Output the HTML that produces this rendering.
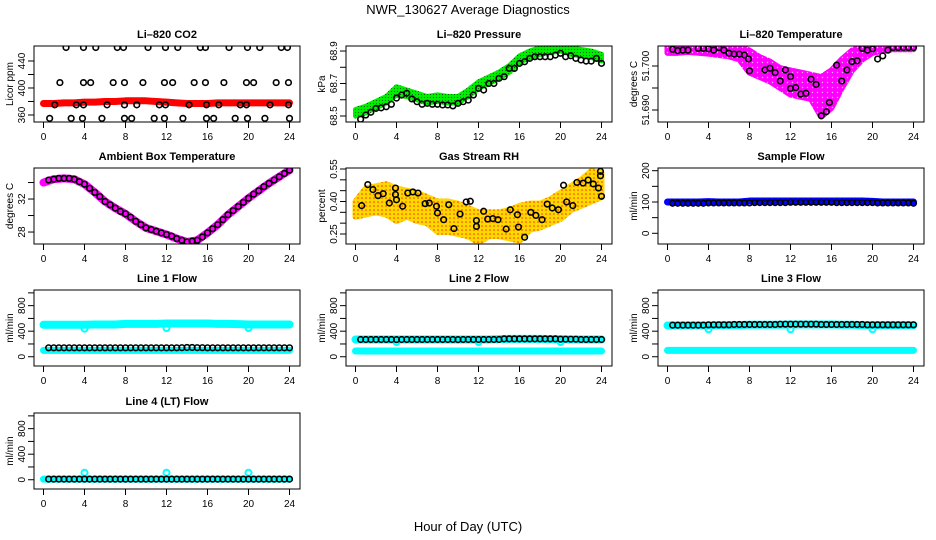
<!DOCTYPE html>
<html><head><meta charset="utf-8">
<style>
html,body{margin:0;padding:0;background:#fff;}
svg{display:block;font-family:"Liberation Sans",sans-serif;}
</style></head>
<body>
<svg id="chart" width="936" height="540" viewBox="0 0 936 540">
<defs>
<pattern id="rhpat" width="4" height="4" patternUnits="userSpaceOnUse">
<rect width="4" height="4" fill="#ffd800"/>
<circle cx="2" cy="2" r="0.8" fill="#ff3000"/>
</pattern>
<pattern id="magpat" width="5" height="5" patternUnits="userSpaceOnUse">
<rect width="5" height="5" fill="#ff00ff"/>
<circle cx="2.5" cy="2.5" r="0.7" fill="#ffb0ff"/>
</pattern>
<pattern id="grnpat" width="3" height="3" patternUnits="userSpaceOnUse">
<rect width="3" height="3" fill="#00ee00"/>
<rect x="1" y="1" width="1" height="1" fill="#006600"/>
</pattern>
</defs>
<text x="468" y="14" text-anchor="middle" font-size="13">NWR_130627  Average Diagnostics</text>
<text x="468" y="531" text-anchor="middle" font-size="13">Hour of Day (UTC)</text>
</svg>
<script>
// ---- data ----
const hours = [0,1,2,3,4,5,6,7,8,9,10,11,12,13,14,15,16,17,18,19,20,21,22,23,24];
const halfHours = [0.5,1,1.5,2,2.5,3,3.5,4,4.5,5,5.5,6,6.5,7,7.5,8,8.5,9,9.5,10,10.5,11,11.5,12,12.5,13,13.5,14,14.5,15,15.5,16,16.5,17,17.5,18,18.5,19,19.5,20,20.5,21,21.5,22,22.5,23,23.5,24];

// Li-820 CO2
const co2Band = [377,377,378,378,379,379,380,380,381,381,381,380,379,378,377,377,377,378,378,378,378,378,378,378,378];
const co2PtsT = [2.2,3.9,5.1,7.2,7.8,10.2,11.9,13.1,15.3,15.8,18.1,19.9,21.1,23.2,23.8, 1.6,3.9,4.6,6.8,7.9,9.7,11.8,12.6,14.7,15.8,17.6,19.8,20.5,22.7,23.9, 1.1,3.2,3.9,6.2,7.9,9.1,11.3,11.9,14.2,15.9,17.1,19.2,19.8,22.1,23.9, 0.6,2.7,3.8,5.7,7.9,8.6,10.8,11.8,13.6,15.9,16.6,18.7,19.9,21.6,24];
const co2PtsV = [460,460,460,460,460,460,460,460,460,460,460,460,460,460,460, 408,408,408,408,408,408,408,408,408,408,408,408,408,408,408, 375,375,375,375,375,375,375,375,375,375,375,375,375,375,375, 355,355,355,355,355,355,355,355,355,355,355,355,355,355,355];

// Li-820 Pressure
const presLo = [68.50,68.52,68.55,68.58,68.63,68.62,68.60,68.58,68.59,68.58,68.58,68.62,68.67,68.70,68.73,68.77,68.83,68.86,68.88,68.89,68.90,68.88,68.87,68.86,68.84];
const presHi = [68.54,68.56,68.59,68.62,68.68,68.66,68.64,68.62,68.63,68.62,68.62,68.66,68.71,68.74,68.77,68.81,68.87,68.90,68.92,68.93,68.94,68.92,68.91,68.90,68.88];
const presPts = [68.48,68.506,68.523,68.547,68.55,68.557,68.572,68.61,68.629,68.64,68.605,68.588,68.572,68.578,68.572,68.572,68.568,68.568,68.562,68.578,68.588,68.598,68.629,68.67,68.66,68.70,68.70,68.732,68.742,68.793,68.793,68.824,68.834,68.855,68.865,68.865,68.865,68.865,68.875,68.886,68.865,68.871,68.855,68.845,68.838,68.838,68.855,68.824];

// Li-820 Temperature
const tempHi = [51.7046,51.7046,51.7046,51.7046,51.7046,51.7046,51.7046,51.7046,51.7035,51.7020,51.7010,51.6995,51.6990,51.6985,51.6980,51.6975,51.6990,51.7015,51.7035,51.7046,51.7046,51.7046,51.7046,51.7046,51.7046];
const tempLo = [51.7030,51.7030,51.7032,51.7030,51.7028,51.7025,51.7022,51.7015,51.6985,51.6975,51.6965,51.6950,51.6935,51.6930,51.6925,51.6885,51.6905,51.6950,51.6990,51.7015,51.7030,51.7035,51.7038,51.7038,51.7038];
const tempPtsT = [0.5,1,1.5,2,3,3.5,4,4.5,5,5.5,6,6.5,7,7.5,7.9,8,9.5,10,10.5,11,11.5,12,12,12.5,13,13.5,14,14.5,15,15.5,15.8,16.5,17,17.5,18,18.5,19,19.5,20,20.5,21,21.5,22,22.5,23,23.5,24];
const tempPtsV = [51.7038,51.7035,51.7036,51.7036,51.7040,51.7040,51.7039,51.7036,51.7042,51.7036,51.7029,51.7027,51.7027,51.7025,51.7016,51.6989,51.6991,51.6995,51.6985,51.6966,51.6991,51.6976,51.6949,51.6951,51.6936,51.6938,51.6970,51.6958,51.6887,51.6896,51.6917,51.7002,51.6966,51.6991,51.7010,51.7012,51.7040,51.7036,51.7039,51.7016,51.7023,51.7036,51.7042,51.7042,51.7042,51.7042,51.7042];

// Ambient Box Temperature
const ambCurve = [34.0,34.4,34.5,34.4,33.8,32.8,31.7,30.9,30.2,29.3,28.5,28.1,27.7,27.2,26.8,27.0,27.9,28.9,30.1,31.1,32.1,33.0,33.9,34.7,35.5];
const ambPts = [34.3,34.4,34.5,34.5,34.5,34.4,34.1,33.8,33.3,32.8,32.3,31.7,31.3,30.9,30.5,30.2,29.8,29.3,28.9,28.5,28.3,28.1,27.9,27.7,27.5,27.2,27.0,26.8,26.9,27.0,27.4,27.9,28.4,28.9,29.5,30.1,30.6,31.1,31.6,32.1,32.6,33.0,33.5,33.9,34.3,34.7,35.1,35.5];

// Gas Stream RH
const rhLo = [0.33,0.34,0.35,0.34,0.31,0.33,0.31,0.30,0.26,0.26,0.25,0.24,0.21,0.24,0.24,0.23,0.22,0.27,0.28,0.30,0.32,0.36,0.38,0.40,0.42];
const rhHi = [0.40,0.46,0.47,0.48,0.46,0.45,0.44,0.42,0.40,0.40,0.39,0.37,0.35,0.35,0.35,0.36,0.38,0.39,0.39,0.41,0.44,0.47,0.50,0.54,0.53];
const rhPtsT = [0.6,1.2,1.7,2.2,2.7,3.3,3.9,3.9,4,4.6,5.1,5.6,6.1,6.8,7.2,7.9,8,8.6,9.1,9.6,10.2,11.2,10.8,11.8,11.8,12.5,12.9,13.4,13.9,14.7,15.1,15.8,15.9,16.5,17.1,17.6,18.2,18.7,19.2,19.8,20.3,20.6,21.2,21.6,22.2,22.7,23.2,23.7,23.9,23.9,24];
const rhPtsV = [0.381,0.478,0.455,0.427,0.436,0.393,0.462,0.432,0.408,0.378,0.439,0.444,0.439,0.390,0.393,0.378,0.347,0.316,0.385,0.275,0.342,0.401,0.398,0.312,0.285,0.355,0.319,0.321,0.316,0.273,0.362,0.339,0.282,0.235,0.350,0.336,0.316,0.388,0.370,0.362,0.475,0.398,0.381,0.488,0.485,0.499,0.481,0.462,0.539,0.519,0.424];

// Sample Flow
const sampBand = [100,100,100,100,101,100,100,100,103,103,103,103,103,103,103,103,103,103,103,103,102,100,100,100,100];
const sampPts = [96,96,96,96,96,96,96,97,97,97,97,97,97,97,97,97,98,98,98,98,98,98,98,99,99,99,99,99,99,99,99,99,98,98,98,98,98,98,98,98,97,97,97,97,97,97,97,96];

// Line flows
const l1Hi = [500,500,500,500,500,505,505,505,515,515,515,515,520,520,520,520,520,515,515,510,505,505,505,505,505];
const l1Lo = [100,100,100,100,100,100,100,100,100,100,100,100,100,100,100,100,100,100,100,100,100,100,100,100,100];
const l1Pts = [140,140,140,140,140,140,140,140,140,140,140,140,140,140,140,140,140,140,140,140,140,140,140,140,140,140,142,145,145,142,142,140,140,140,140,140,140,140,140,140,140,140,140,140,140,140,140,140];
const l1DipT = [4,12,20];
const l1DipV = [440,450,450];

const l2Hi = [270,270,270,270,270,270,270,270,270,270,270,270,270,270,275,280,280,280,280,275,275,270,270,270,270];
const l2Lo = [90,90,90,90,90,90,90,90,90,90,90,90,90,90,90,90,90,90,90,90,90,90,90,90,90];
const l2Pts = [270,270,270,270,270,270,270,268,270,270,270,270,270,270,270,270,270,270,270,268,270,270,270,270,270,270,270,270,280,280,280,280,280,280,280,280,280,280,280,275,275,275,275,270,270,270,270,270];
const l2DipT = [4,12,20];
const l2DipV = [230,230,230];

const l3Hi = [490,490,490,490,490,495,495,495,500,500,500,500,505,505,505,505,505,500,500,495,495,495,495,495,495];
const l3Lo = [100,100,100,100,100,100,100,100,100,100,100,100,100,100,100,100,100,100,100,100,100,100,100,100,100];
const l3Pts = [495,495,495,495,495,495,495,500,500,500,500,500,505,505,505,505,505,505,505,505,505,510,510,510,510,510,510,510,510,505,505,505,505,505,505,505,505,505,500,500,500,500,500,500,500,500,500,500];
const l3DipT = [4,12,20];
const l3DipV = [430,430,430];

const l4Band = [10,10,10,10,10,10,10,10,10,10,10,10,10,10,10,10,10,10,10,10,10,10,10,10,10];
const l4Pts = [10,10,10,10,10,10,10,10,10,10,10,10,10,10,10,10,10,10,10,10,10,10,10,10,10,10,10,10,10,10,10,10,10,10,10,10,10,10,10,10,10,10,10,10,10,10,10,10];
const l4DipT = [4,12,20];
const l4DipV = [110,110,110];

const xTicks = [0,4,8,12,16,20,24];

// ---- layout ----
const NS = "http://www.w3.org/2000/svg";
const svg = document.getElementById('chart');
const colL = [34,346,658];
const rowT = [46,168,290,413];
const PW = 266, PH = 76;

function el(tag, parent){ const e=document.createElementNS(NS,tag); parent.appendChild(e); return e; }

function makePanel(id, col, row, title, ylab, dom, ticks, labels){
  const L=colL[col], T=rowT[row];
  const g = el('g', svg);
  
  
  const xs = h => L + 9.5 + h*10.25;
  const ys = v => T + (dom[1]-v)/(dom[1]-dom[0])*PH;
  const cp = el('clipPath', g); cp.setAttribute('id','clip-'+id);
  const cr = el('rect', cp); cr.setAttribute('x',L); cr.setAttribute('y',T); cr.setAttribute('width',PW); cr.setAttribute('height',PH);
  const data = el('g', g); data.setAttribute('clip-path','url(#clip-'+id+')');
  
  
  const box = el('rect', g);
  box.setAttribute('x',L); box.setAttribute('y',T); box.setAttribute('width',PW); box.setAttribute('height',PH);
  box.setAttribute('fill','none'); box.setAttribute('stroke','#000'); box.setAttribute('stroke-width','1');
  
  
  const tt = el('text', g);
  tt.setAttribute('x', L+PW/2); tt.setAttribute('y', T-8); tt.setAttribute('text-anchor','middle');
  tt.setAttribute('font-size','11'); tt.setAttribute('font-weight','bold');
  tt.textContent = title;
  
  
  const yl = el('text', g);
  yl.setAttribute('transform','translate('+(L-21)+','+(T+PH/2)+') rotate(-90)');
  yl.setAttribute('text-anchor','middle'); yl.setAttribute('font-size','10');
  yl.textContent = ylab;
  
  
  const xa = el('g', g);
  
  
  const B = T+PH;
  xTicks.forEach(h=>{
    const ln = el('line', xa);
    ln.setAttribute('x1',xs(h)); ln.setAttribute('x2',xs(h)); ln.setAttribute('y1',B); ln.setAttribute('y2',B+6); ln.setAttribute('stroke','#000');
    const tx = el('text', xa);
    tx.setAttribute('x',xs(h)); tx.setAttribute('y',B+18); tx.setAttribute('text-anchor','middle'); tx.setAttribute('font-size','10');
    tx.textContent = h;
    
    
  });
  const ya = el('g', g);
  
  
  ticks.forEach(v=>{
    const ln = el('line', ya);
    ln.setAttribute('x1',L-6); ln.setAttribute('x2',L); ln.setAttribute('y1',ys(v)); ln.setAttribute('y2',ys(v)); ln.setAttribute('stroke','#000');
  });
  labels.forEach(v=>{
    const tx = el('text', ya);
    tx.setAttribute('transform','translate('+(L-9)+','+ys(v)+') rotate(-90)');
    tx.setAttribute('text-anchor','middle'); tx.setAttribute('font-size','10');
    tx.textContent = v;
    
    
  });
  return {g:data, xs, ys};
}

function band(p, lo, hi, fill, sw, name){
  let d = '';
  hours.forEach((h,i)=>{ d += (i?'L':'M')+p.xs(h)+','+p.ys(hi[i]); });
  for(let i=hours.length-1;i>=0;i--){ d += 'L'+p.xs(hours[i])+','+p.ys(lo[i]); }
  const e = el('path', p.g);
  e.setAttribute('d', d+'Z'); e.setAttribute('fill', fill); e.setAttribute('stroke', fill); e.setAttribute('stroke-width', sw); e.setAttribute('stroke-linejoin','round');
  
  
}
function line(p, vals, color, sw, name){
  let d='';
  hours.forEach((h,i)=>{ d += (i?'L':'M')+p.xs(h)+','+p.ys(vals[i]); });
  const e = el('path', p.g);
  e.setAttribute('d', d); e.setAttribute('fill','none'); e.setAttribute('stroke', color); e.setAttribute('stroke-width', sw); e.setAttribute('stroke-linecap','round'); e.setAttribute('stroke-linejoin','round');
  
  
}
function pts(p, ts, vs, color, r, sw, name){
  ts.forEach((t,i)=>{
    const c = el('circle', p.g);
    c.setAttribute('cx', p.xs(t)); c.setAttribute('cy', p.ys(vs[i])); c.setAttribute('r', r);
    c.setAttribute('fill','none'); c.setAttribute('stroke', color); c.setAttribute('stroke-width', sw);
    
    
  });
}

let p;
p = makePanel('co2',0,0,'Li\u2013820 CO2','Licor ppm',[349.6,462.2],[360,380,400,420,440],[360,400,440]);
line(p, co2Band, '#ff0000', 7, 'co2-licor-series');
pts(p, co2PtsT, co2PtsV, '#000', 2.8, 1.6, 'co2-average-point');

p = makePanel('pressure',1,0,'Li\u2013820 Pressure','kPa',[68.463,68.931],[68.5,68.6,68.7,68.8,68.9],['68.5','68.7','68.9']);
band(p, presLo, presHi, 'url(#grnpat)', 5, 'pressure-series');
pts(p, halfHours, presPts, '#000', 2.8, 1.6, 'pressure-average-point');

p = makePanel('temperature',2,0,'Li\u2013820 Temperature','degrees C',[51.68727,51.70455],[51.690,51.695,51.700],['51.690','51.700']);
band(p, tempLo, tempHi, 'url(#magpat)', 6, 'temperature-series');
pts(p, tempPtsT, tempPtsV, '#000', 2.8, 1.6, 'temperature-average-point');

p = makePanel('ambient',0,1,'Ambient Box Temperature','degrees C',[26.55,35.76],[28,30,32,34],[28,32]);
line(p, ambCurve, '#ff00ff', 8, 'ambient-series');
pts(p, halfHours, ambPts, '#000', 2.8, 1.6, 'ambient-average-point');

p = makePanel('rh',1,1,'Gas Stream RH','percent',[0.2038,0.5546],[0.25,0.30,0.35,0.40,0.45,0.50,0.55],['0.25','0.40','0.55']);
band(p, rhLo, rhHi, 'url(#rhpat)', 6, 'rh-series');
pts(p, rhPtsT, rhPtsV, '#000', 2.8, 1.6, 'rh-average-point');

p = makePanel('sample-flow',2,1,'Sample Flow','ml/min',[-34.2,208.6],[0,50,100,150,200],[0,100,200]);
line(p, sampBand, '#0000ff', 7, 'sample-flow-series');
pts(p, halfHours, sampPts, '#000', 2.8, 1.6, 'sample-flow-average-point');

const fdom = [-145,1045], fticks=[0,200,400,600,800,1000], flabels=[0,400,800];
p = makePanel('line1',0,2,'Line 1 Flow','ml/min',fdom,fticks,flabels);
line(p, l1Hi, '#00ffff', 8, 'line1-flow-series');
line(p, l1Lo, '#00ffff', 7, 'line1-low-series');
pts(p, l1DipT, l1DipV, '#00ffff', 3, 2, 'line1-dip-point');
pts(p, halfHours, l1Pts, '#000', 2.8, 1.6, 'line1-average-point');

p = makePanel('line2',1,2,'Line 2 Flow','ml/min',fdom,fticks,flabels);
line(p, l2Hi, '#00ffff', 8, 'line2-flow-series');
line(p, l2Lo, '#00ffff', 7, 'line2-low-series');
pts(p, l2DipT, l2DipV, '#00ffff', 3, 2, 'line2-dip-point');
pts(p, halfHours, l2Pts, '#000', 2.8, 1.6, 'line2-average-point');

p = makePanel('line3',2,2,'Line 3 Flow','ml/min',fdom,fticks,flabels);
line(p, l3Hi, '#00ffff', 8, 'line3-flow-series');
line(p, l3Lo, '#00ffff', 7, 'line3-low-series');
pts(p, l3DipT, l3DipV, '#00ffff', 3, 2, 'line3-dip-point');
pts(p, halfHours, l3Pts, '#000', 2.8, 1.6, 'line3-average-point');

p = makePanel('line4',0,3,'Line 4 (LT) Flow','ml/min',fdom,fticks,flabels);
line(p, l4Band, '#00ffff', 7, 'line4-flow-series');
pts(p, l4DipT, l4DipV, '#00ffff', 3, 2, 'line4-dip-point');
pts(p, halfHours, l4Pts, '#000', 2.8, 1.6, 'line4-average-point');
</script>
</body></html>
